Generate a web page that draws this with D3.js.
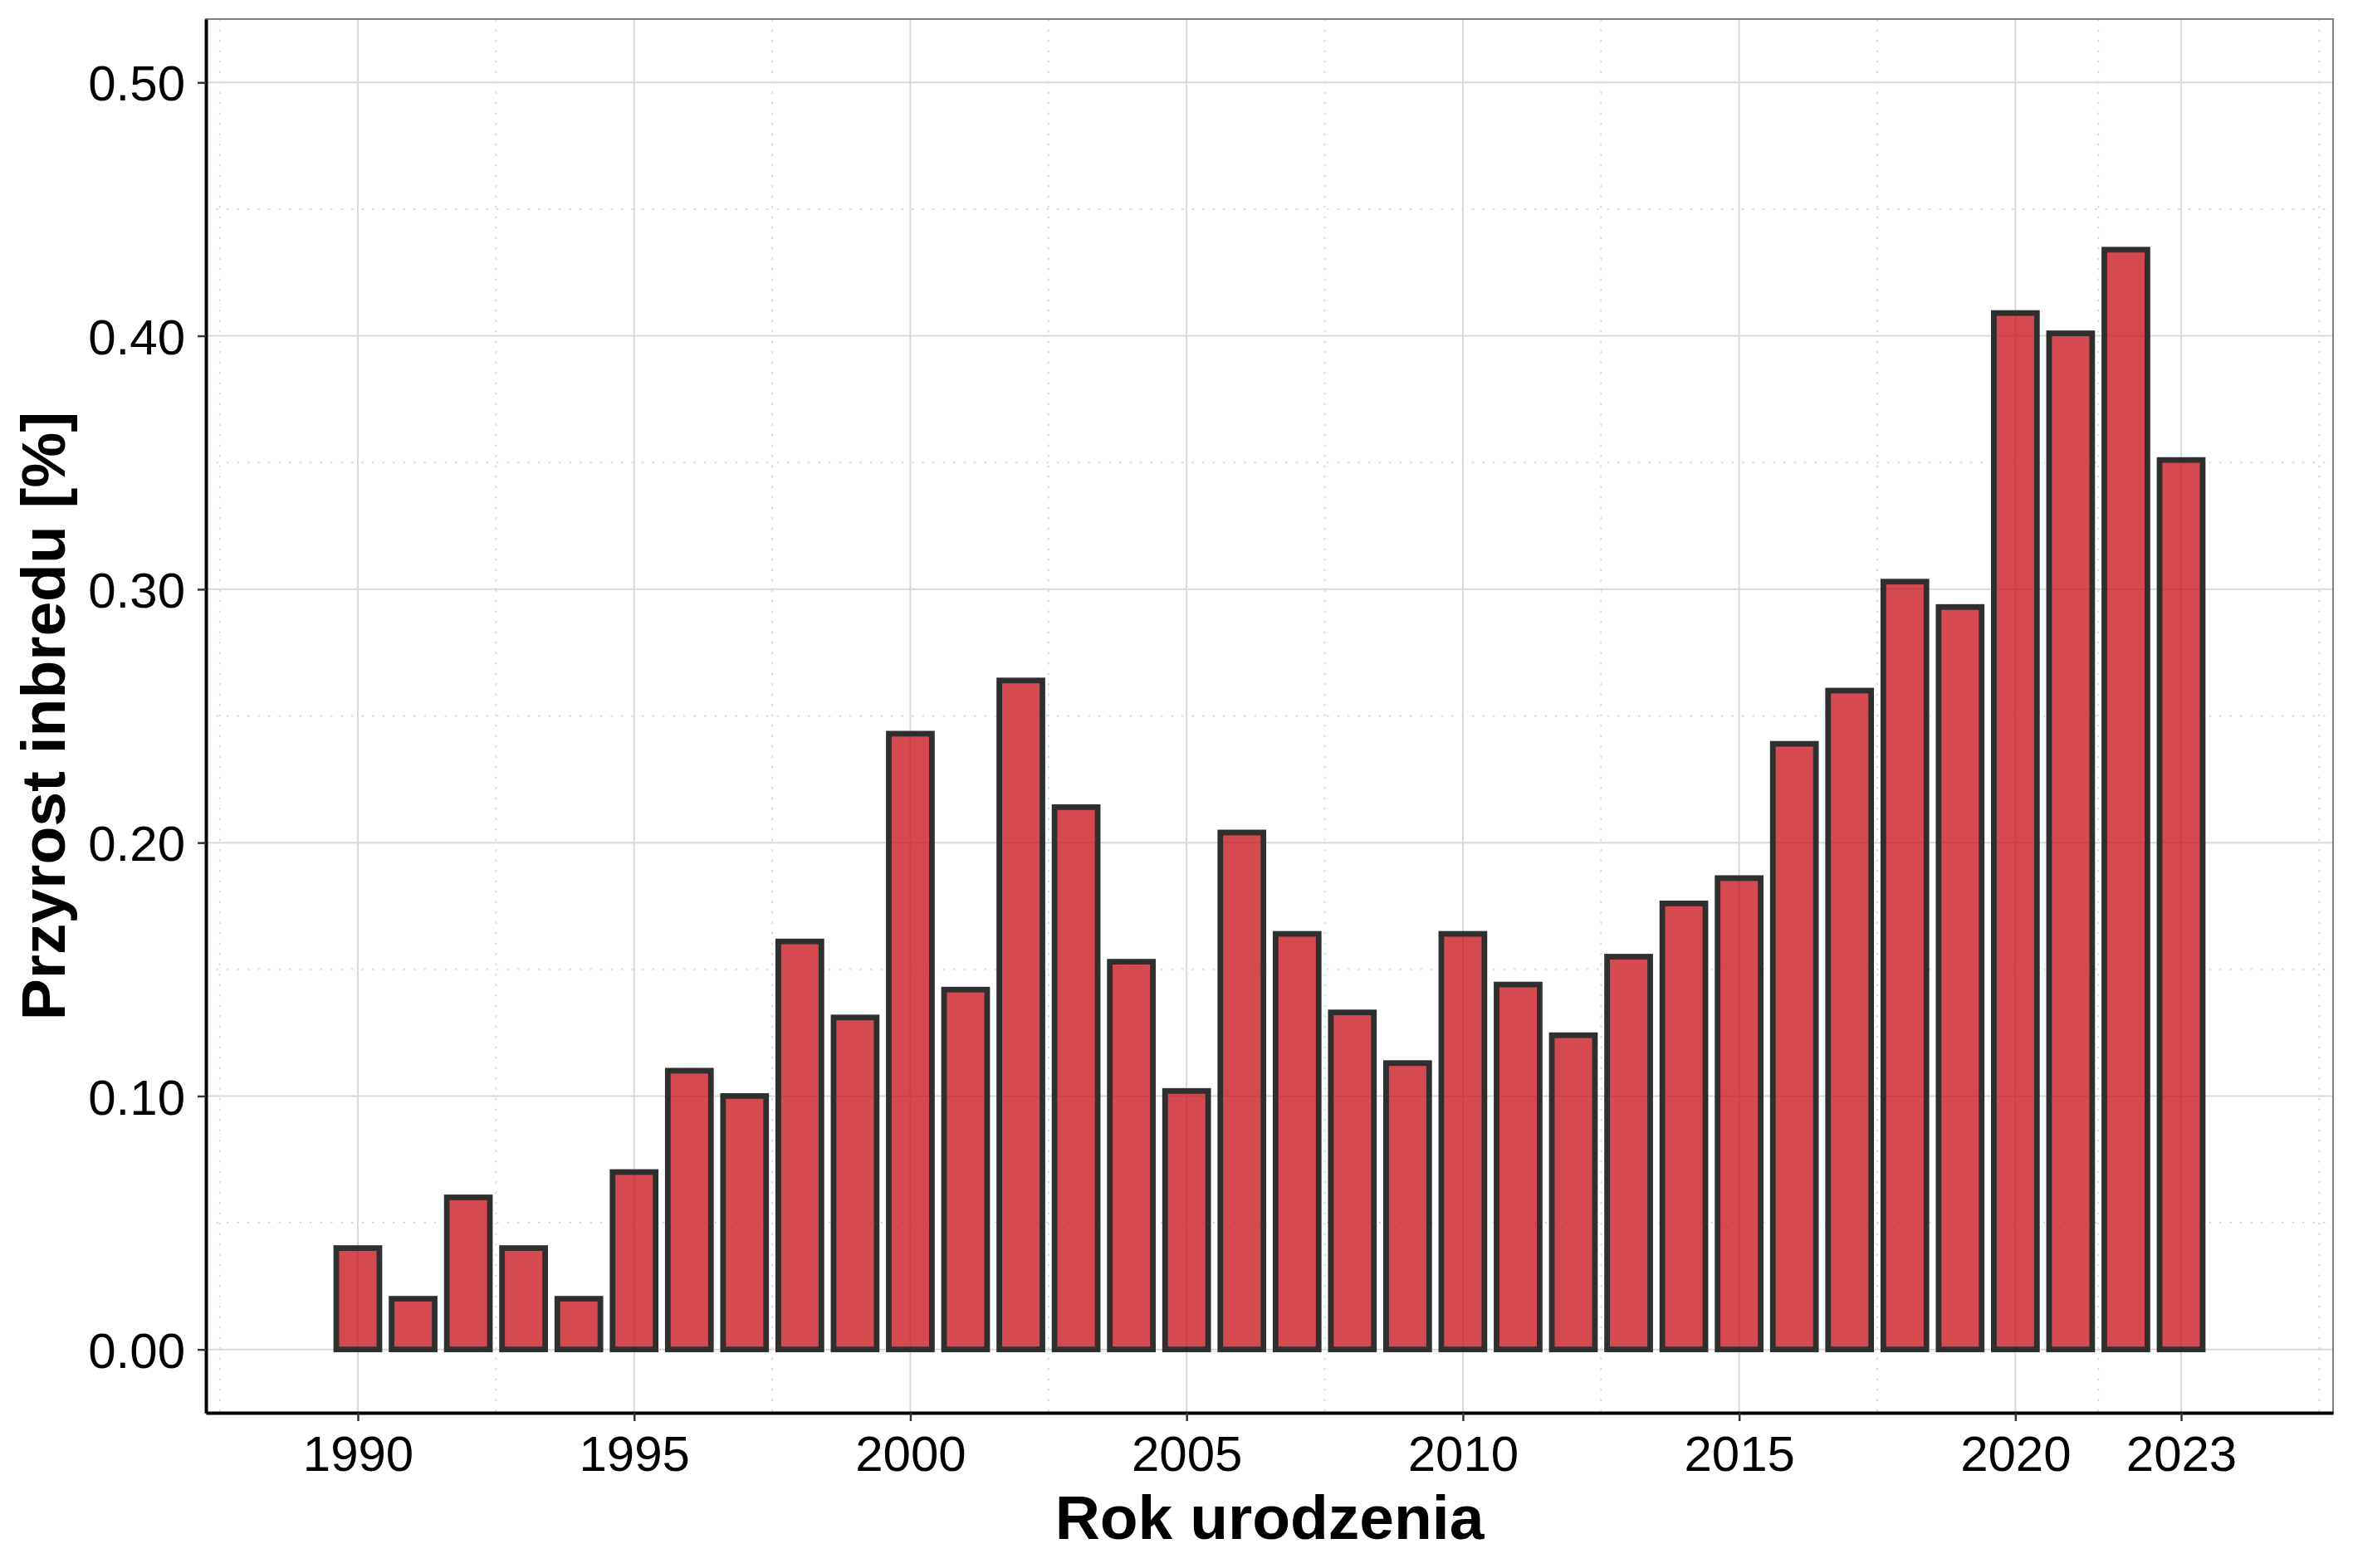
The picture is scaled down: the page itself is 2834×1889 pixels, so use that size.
<!DOCTYPE html>
<html>
<head>
<meta charset="utf-8">
<script src="https://cdn.jsdelivr.net/npm/d3@7"></script>
<style>
    body { margin: 0; background: #ffffff; }
    svg { display: block; font-family: "Liberation Sans", Arial, Helvetica, sans-serif; }
</style>
</head>
<body>
<div id="chart"></div>
<script>
// Data :
const years = [1990, 1991, 1992, 1993, 1994, 1995, 1996, 1997, 1998, 1999,
    2000, 2001, 2002, 2003, 2004, 2005, 2006, 2007, 2008, 2009,
    2010, 2011, 2012, 2013, 2014, 2015, 2016, 2017, 2018, 2019,
    2020, 2021, 2022, 2023];
const inbreeding = [0.040, 0.020, 0.060, 0.040, 0.020, 0.070, 0.110, 0.100, 0.161, 0.131,
    0.243, 0.142, 0.264, 0.214, 0.153, 0.102, 0.204, 0.164, 0.133, 0.113,
    0.164, 0.144, 0.124, 0.155, 0.176, 0.186, 0.239, 0.260, 0.303, 0.293,
    0.409, 0.401, 0.434, 0.351];

// Ticks :
const xTicks = [1990, 1995, 2000, 2005, 2010, 2015, 2020, 2023];
const xMinorTicks = [1987.5, 1992.5, 1997.5, 2002.5, 2007.5, 2012.5, 2017.5, 2021.5, 2025.5];
const yTicks = [0, 0.1, 0.2, 0.3, 0.4, 0.5];
const yMinorTicks = [0.05, 0.15, 0.25, 0.35, 0.45];

// Labels :
const xTitle = 'Rok urodzenia';
const yTitle = 'Przyrost inbredu [%]';

/**
 * Bar chart class
 */
class BarChart {

    width; height;
    margin; // [top, bottom, left, right]
    svg; chart;
    scaleX; scaleY;
    data;

    constructor(container, width, height, margin) {
        this.width = width;
        this.height = height;
        this.margin = margin;

        this.svg = d3.select(container)
            .append('svg')
            .attr('width', width).attr('height', height);

        this.chart = this.svg.append('g')
            .attr('transform', `translate(${this.margin[2]}, ${this.margin[0]})`);

        this.grid = this.chart.append('g');
        this.bars = this.chart.append('g');
        this.frame = this.chart.append('g');
        this.axisX = this.chart.append('g');
        this.axisY = this.chart.append('g');
    }

    get chartWidth() { return this.width - this.margin[2] - this.margin[3]; }
    get chartHeight() { return this.height - this.margin[0] - this.margin[1]; }

    //--- #updateScales -------------------------------------------------------------------
    #updateScales() {
        this.scaleX = d3.scaleLinear([1987.25, 2025.75], [0, this.chartWidth]);
        this.scaleY = d3.scaleLinear([-0.025, 0.525], [this.chartHeight, 0]);
    }

    //--- #updateGrid -------------------------------------------------------------------
    // major lines solid, minor lines dotted
    #updateGrid() {
        const w = this.chartWidth, h = this.chartHeight;

        this.grid.selectAll('line.minorY').data(yMinorTicks).join('line')
            .attr('class', 'minorY')
            .attr('x1', 0).attr('x2', w)
            .attr('y1', d => this.scaleY(d)).attr('y2', d => this.scaleY(d));
        this.grid.selectAll('line.minorX').data(xMinorTicks).join('line')
            .attr('class', 'minorX')
            .attr('y1', 0).attr('y2', h)
            .attr('x1', d => this.scaleX(d)).attr('x2', d => this.scaleX(d));
        this.grid.selectAll('line.minorY, line.minorX')
            .attr('stroke', '#dcdcdc')
            .attr('stroke-width', 2)
            .attr('stroke-dasharray', '2.5 10');

        this.grid.selectAll('line.majorY').data(yTicks).join('line')
            .attr('class', 'majorY')
            .attr('x1', 0).attr('x2', w)
            .attr('y1', d => this.scaleY(d)).attr('y2', d => this.scaleY(d));
        this.grid.selectAll('line.majorX').data(xTicks).join('line')
            .attr('class', 'majorX')
            .attr('y1', 0).attr('y2', h)
            .attr('x1', d => this.scaleX(d)).attr('x2', d => this.scaleX(d));
        this.grid.selectAll('line.majorY, line.majorX')
            .attr('stroke', '#d9d9d9')
            .attr('stroke-width', 2);
    }

    //--- #updateBars -------------------------------------------------------------------
    #updateBars() {
        const half = 0.39;
        this.bars.selectAll('rect').data(this.data).join('rect')
            .attr('x', d => this.scaleX(d.year - half))
            .attr('width', d => this.scaleX(d.year + half) - this.scaleX(d.year - half))
            .attr('y', d => this.scaleY(d.value))
            .attr('height', d => this.scaleY(0) - this.scaleY(d.value))
            .attr('fill', '#c8141a')
            .attr('fill-opacity', 0.77)
            .attr('stroke', '#2f2f2f')
            .attr('stroke-width', 6.8);
    }

    //--- #updateAxes -------------------------------------------------------------------
    #updateAxes() {
        // panel border (grey), axis lines drawn on top in black
        this.frame.append('rect')
            .attr('width', this.chartWidth).attr('height', this.chartHeight)
            .attr('fill', 'none')
            .attr('stroke', '#7f7f7f')
            .attr('stroke-width', 2);

        let axisGenX = d3.axisBottom(this.scaleX)
            .tickValues(xTicks)
            .tickFormat(d3.format('d'))
            .tickSizeInner(10).tickSizeOuter(0).tickPadding(17);
        let axisGenY = d3.axisLeft(this.scaleY)
            .tickValues(yTicks)
            .tickFormat(d3.format('.2f'))
            .tickSizeInner(10).tickSizeOuter(0).tickPadding(15);

        this.axisX.attr('transform', `translate(0, ${this.chartHeight})`).call(axisGenX);
        this.axisY.call(axisGenY);

        for (const ax of [this.axisX, this.axisY]) {
            ax.select('.domain').attr('stroke', '#000000').attr('stroke-width', 4);
            ax.selectAll('.tick line').attr('stroke', '#333333').attr('stroke-width', 2.5);
            ax.selectAll('.tick text')
                .attr('fill', '#000000')
                .style('font-size', '60px')
                .style('font-family', '"Liberation Sans", Arial, sans-serif');
        }
        this.axisY.selectAll('.tick text').attr('dy', '0.36em');

        // Titles :
        this.svg.append('text')
            .attr('x', this.margin[2] + this.chartWidth / 2)
            .attr('y', 1854)
            .attr('text-anchor', 'middle')
            .style('font-size', '75px').style('font-weight', 'bold')
            .text(xTitle);

        this.svg.append('text')
            .attr('transform', `translate(78, ${this.margin[0] + this.chartHeight / 2}) rotate(-90)`)
            .attr('text-anchor', 'middle')
            .style('font-size', '75px').style('font-weight', 'bold')
            .text(yTitle);
    }

    //--- render --------------------------------------------------------------
    render(xs, ys) {
        this.data = xs.map((year, i) => ({ year: year, value: ys[i] }));
        this.#updateScales();
        this.#updateGrid();
        this.#updateBars();
        this.#updateAxes();
        return this;
    }
}

new BarChart('#chart', 2834, 1889, [23, 187, 248, 24])
    .render(years, inbreeding);
</script>
</body>
</html>
